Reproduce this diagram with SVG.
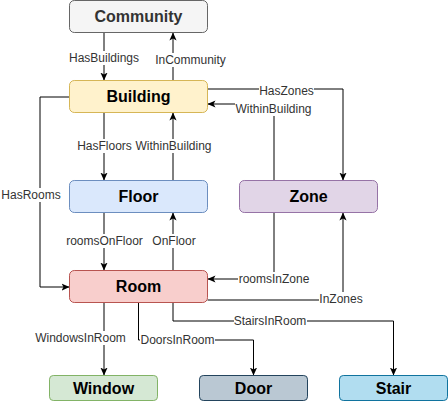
<svg xmlns="http://www.w3.org/2000/svg" width="448" height="401" viewBox="0 0 448 401">
<style>
.n rect{stroke-width:1}
.n text{font-family:"Liberation Sans",Arial,sans-serif;font-size:16px;font-weight:bold;text-anchor:middle;dominant-baseline:central;fill:#000}
.e path{fill:none;stroke:#000;stroke-width:1;marker-end:url(#arr)}
.e path.na{marker-end:none}
.lb rect{fill:#fff}
.lb text{font-family:"Liberation Sans",Arial,sans-serif;font-size:12px;text-anchor:middle;dominant-baseline:central;fill:#333}
</style>
<defs>
<marker id="arr" viewBox="0 0 10 10" refX="10" refY="5" markerWidth="8" markerHeight="8" markerUnits="userSpaceOnUse" orient="auto">
<path d="M0,0.5 L10,5 L0,9.5 L2.5,5 z" fill="#000"/>
</marker>
</defs>
<g id="connectors" class="e">
<path d="M104,32.5 L104,80.5"/>
<path d="M173,80.5 L173,32.5"/>
<path d="M207.5,89 L343,89 L343,180.5"/>
<path d="M274,180.5 L274,104 L207.5,104"/>
<path d="M69.5,97 L40,97 L40,287 L69.5,287"/>
<path d="M104,112.5 L104,180.5"/>
<path d="M173,180.5 L173,112.5"/>
<path d="M104,212.5 L104,270.5"/>
<path d="M173,270.5 L173,212.5"/>
<path d="M274,212.5 L274,279 L207.5,279"/>
<path d="M207.5,300 L343,300 L343,212.5"/>
<path d="M104,302.5 L104,375.5"/>
<path d="M138.5,302.5 L138.5,340 L253.5,340 L253.5,375.5"/>
<path d="M173,302.5 L173,321 L393.5,321 L393.5,375.5"/>
<g class="lb">
<rect x="69" y="51" width="70" height="14"/><text x="104" y="58">HasBuildings</text>
<rect x="155" y="53" width="71" height="14"/><text x="190.5" y="60">InCommunity</text>
<rect x="259" y="84" width="55" height="14"/><text x="286.5" y="91">HasZones</text>
<rect x="235" y="102" width="77" height="14"/><text x="273.5" y="109">WithinBuilding</text>
<rect x="1" y="188" width="60" height="14"/><text x="31" y="195">HasRooms</text>
<rect x="77" y="139" width="55" height="14"/><text x="104.5" y="146">HasFloors</text>
<rect x="135" y="139" width="77" height="14"/><text x="173.5" y="146">WithinBuilding</text>
<rect x="66" y="234" width="78" height="14"/><text x="104.5" y="241">roomsOnFloor</text>
<rect x="152" y="234" width="44" height="14"/><text x="174" y="241">OnFloor</text>
<rect x="238" y="272" width="72" height="14"/><text x="274" y="279">roomsInZone</text>
<rect x="319" y="292" width="44" height="14"/><text x="341" y="299">InZones</text>
<rect x="35" y="331" width="92" height="14"/><text x="80.5" y="338">WindowsInRoom</text>
<rect x="140" y="333" width="75" height="14"/><text x="177.5" y="340">DoorsInRoom</text>
<rect x="234" y="314" width="73" height="14"/><text x="270" y="321">StairsInRoom</text>
</g>
</g>
<g id="community" class="n"><rect x="69.5" y="0.5" width="138" height="32" rx="4.8" fill="#f5f5f5" stroke="#666666"/><text x="138.5" y="16.5" style="fill:#333333">Community</text></g>
<g id="building" class="n"><rect x="69.5" y="80.5" width="138" height="32" rx="4.8" fill="#fff2cc" stroke="#d6b656"/><text x="138.5" y="96.5">Building</text></g>
<g id="floor" class="n"><rect x="69.5" y="180.5" width="138" height="32" rx="4.8" fill="#dae8fc" stroke="#6c8ebf"/><text x="138.5" y="196.5">Floor</text></g>
<g id="zone" class="n"><rect x="239.5" y="180.5" width="138" height="32" rx="4.8" fill="#e1d5e7" stroke="#9673a6"/><text x="308.5" y="196.5">Zone</text></g>
<g id="room" class="n"><rect x="69.5" y="270.5" width="138" height="32" rx="4.8" fill="#f8cecc" stroke="#b85450"/><text x="138.5" y="286.5">Room</text></g>
<g id="window" class="n"><rect x="49.5" y="375.5" width="108" height="25" rx="3.75" fill="#d5e8d4" stroke="#82b366"/><text x="103.5" y="388">Window</text></g>
<g id="door" class="n"><rect x="199.5" y="375.5" width="108" height="25" rx="3.75" fill="#bac8d3" stroke="#23445d"/><text x="253.5" y="388">Door</text></g>
<g id="stair" class="n"><rect x="339.5" y="375.5" width="108" height="25" rx="3.75" fill="#b1ddf0" stroke="#10739e"/><text x="393.5" y="388">Stair</text></g>
</svg>
